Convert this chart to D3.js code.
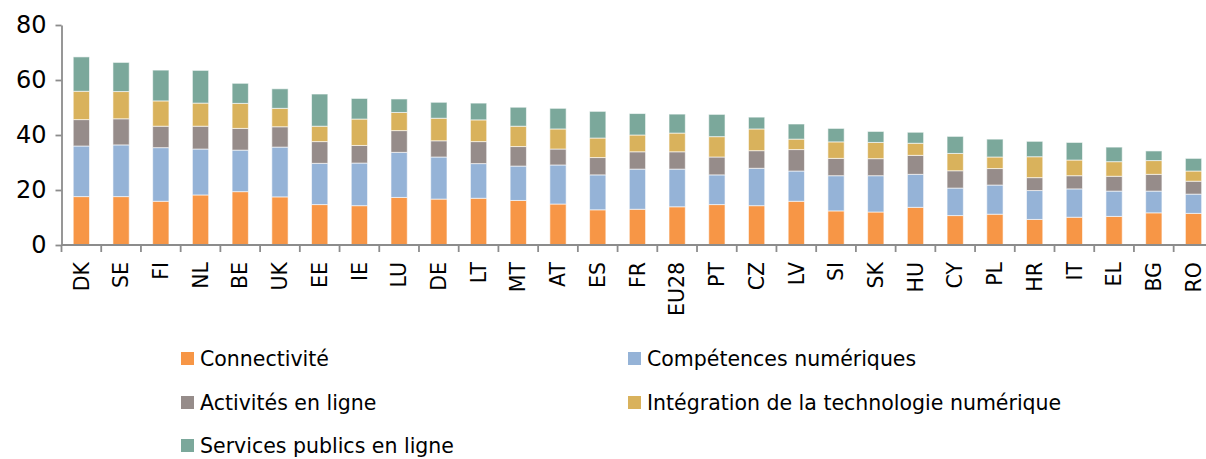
<!DOCTYPE html>
<html>
<head>
<meta charset="utf-8">
<script src="https://cdn.jsdelivr.net/npm/d3@7"></script>
<style>
  body { margin: 0; background: #fff; }
  svg { display: block; }
</style>
</head>
<body>
<div id="chart"></div>
<script>
const countries = ['DK', 'SE', 'FI', 'NL', 'BE', 'UK', 'EE', 'IE', 'LU', 'DE', 'LT', 'MT', 'AT', 'ES', 'FR',
  'EU28', 'PT', 'CZ', 'LV', 'SI', 'SK', 'HU', 'CY', 'PL', 'HR', 'IT', 'EL', 'BG', 'RO'];

const connectivite = [17.6, 17.6, 15.9, 18.2, 19.4, 17.5, 14.7, 14.3, 17.3, 16.7, 17.0, 16.2, 14.9, 12.8, 13.0,
  13.9, 14.7, 14.3, 15.9, 12.4, 12.0, 13.7, 10.7, 11.2, 9.3, 10.1, 10.4, 11.7, 11.5];
const competences = [18.4, 18.8, 19.5, 16.7, 15.1, 18.1, 15.0, 15.5, 16.4, 15.3, 12.6, 12.5, 14.2, 12.7, 14.6,
  13.7, 10.8, 13.6, 11.0, 12.8, 13.2, 12.0, 10.0, 10.6, 10.5, 10.3, 9.2, 7.9, 7.0];
const activites = [9.6, 9.5, 7.8, 8.3, 7.9, 7.4, 7.9, 6.4, 7.9, 5.9, 8.0, 7.1, 5.8, 6.3, 6.3,
  6.3, 6.5, 6.4, 7.8, 6.3, 6.2, 6.9, 6.3, 6.0, 4.7, 4.8, 5.4, 6.1, 4.7];
const integration = [10.3, 9.9, 9.2, 8.4, 9.1, 6.7, 5.6, 9.6, 6.6, 8.2, 7.9, 7.4, 7.3, 7.1, 6.1,
  6.8, 7.4, 7.9, 3.8, 6.0, 5.9, 4.4, 6.3, 4.2, 7.6, 5.7, 5.3, 5.0, 3.7];
const services = [12.5, 10.6, 11.2, 11.9, 7.3, 7.1, 11.7, 7.5, 4.9, 5.8, 6.1, 6.9, 7.5, 9.7, 7.8,
  6.9, 8.1, 4.3, 5.5, 4.9, 4.0, 4.0, 6.2, 6.5, 5.6, 6.4, 5.3, 3.5, 4.6];

const seriesNames = ['Connectivité', 'Compétences numériques', 'Activités en ligne',
  'Intégration de la technologie numérique', 'Services publics en ligne'];
const seriesValues = [connectivite, competences, activites, integration, services];
const yTicks = [0, 20, 40, 60, 80];

const colors = ['#F79646', '#95B3D7', '#968C8A', '#D9B25C', '#7BA89B'];

const width = 1206;
const height = 459;
const x0 = 61.5;
const step = 39.72;
const yTop = 25;
const yBottom = 245;
const font = '"DejaVu Sans", sans-serif';
const axisColor = '#8c8c8c';

const rows = countries.map((c, i) => {
  const r = { country: c };
  seriesNames.forEach((s, j) => { r[s] = seriesValues[j][i]; });
  return r;
});

const stacked = d3.stack().keys(seriesNames)(rows);

const x = d3.scaleBand()
  .domain(countries)
  .range([x0, x0 + step * countries.length])
  .paddingInner(0.59)
  .paddingOuter(0.295);

const y = d3.scaleLinear()
  .domain([0, 80])
  .range([yBottom, yTop]);

const color = d3.scaleOrdinal().domain(seriesNames).range(colors);

const svg = d3.select('#chart')
  .append('svg')
  .attr('width', width)
  .attr('height', height);

// bars
svg.append('g')
  .selectAll('g')
  .data(stacked)
  .join('g')
  .attr('fill', d => color(d.key))
  .selectAll('rect')
  .data(d => d)
  .join('rect')
  .attr('x', d => x(d.data.country))
  .attr('width', x.bandwidth())
  .attr('y', d => y(d[1]))
  .attr('height', d => y(d[0]) - y(d[1]))
  .attr('stroke', 'rgba(255,255,255,0.6)')
  .attr('stroke-width', 1);

// y axis
const yAxis = svg.append('g')
  .attr('transform', `translate(${x0},0)`)
  .call(d3.axisLeft(y).tickValues(yTicks).tickSize(6).tickPadding(9).tickSizeOuter(0));
yAxis.select('.domain').attr('stroke', axisColor).attr('stroke-width', 1.8);
yAxis.selectAll('.tick line').attr('stroke', axisColor).attr('stroke-width', 1.8);
yAxis.selectAll('.tick text')
  .attr('font-family', font)
  .attr('font-size', '24px')
  .attr('fill', '#000');

// x axis with labels
const xAxis = svg.append('g')
  .attr('transform', `translate(0,${yBottom})`)
  .call(d3.axisBottom(x).tickSize(0).tickSizeOuter(0));
xAxis.select('.domain').remove();
xAxis.append('line')
  .attr('x1', x0)
  .attr('x2', width)
  .attr('stroke', axisColor)
  .attr('stroke-width', 1.8);
xAxis.selectAll('.tick text')
  .attr('font-family', font)
  .attr('font-size', '20.5px')
  .attr('fill', '#000')
  .attr('text-anchor', 'end')
  .attr('transform', 'rotate(-90)')
  .attr('x', -17)
  .attr('y', 0)
  .attr('dy', '0.35em');

// boundary ticks between categories
xAxis.append('g')
  .selectAll('line')
  .data(countries)
  .join('line')
  .attr('x1', d => x(d) - (x.step() - x.bandwidth()) / 2)
  .attr('x2', d => x(d) - (x.step() - x.bandwidth()) / 2)
  .attr('y1', 0)
  .attr('y2', 7)
  .attr('stroke', axisColor)
  .attr('stroke-width', 1.8);

// legend
const legendPos = [
  { x: 181, y: 366 }, { x: 628, y: 366 },
  { x: 181, y: 410 }, { x: 628, y: 410 },
  { x: 181, y: 453 }
];

const legend = svg.append('g')
  .selectAll('g')
  .data(seriesNames)
  .join('g')
  .attr('transform', (d, i) => `translate(${legendPos[i].x},${legendPos[i].y})`);

legend.append('rect')
  .attr('x', 0)
  .attr('y', -14)
  .attr('width', 13)
  .attr('height', 13)
  .attr('fill', d => color(d));

legend.append('text')
  .attr('x', 19)
  .attr('y', 0)
  .attr('font-family', font)
  .attr('font-size', '20.5px')
  .attr('fill', '#000')
  .text(d => d);
</script>
</body>
</html>
